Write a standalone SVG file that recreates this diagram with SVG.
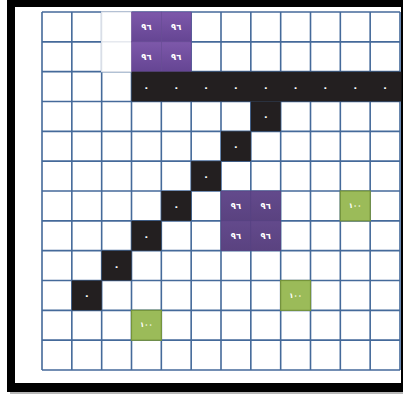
<svg xmlns="http://www.w3.org/2000/svg" width="403" height="394" viewBox="0 0 403 394">
<defs>
<linearGradient id="pg" x1="0" y1="0" x2="0" y2="1">
<stop offset="0" stop-color="#7d58aa"/>
<stop offset="1" stop-color="#654593"/>
</linearGradient>
<linearGradient id="pg2" x1="0" y1="0" x2="0" y2="1">
<stop offset="0" stop-color="#634a8c"/>
<stop offset="1" stop-color="#5a4280"/>
</linearGradient>
</defs>
<style>
.grid{stroke:#456a9a;stroke-width:1.6;fill:none}
.blk{fill:#231f20}
.pur{fill:url(#pg);stroke:#6a4c96;stroke-width:0.6}
.pur2{fill:url(#pg2);stroke:#574080;stroke-width:0.6}
.grn{fill:#9bbb59;stroke:#76943a;stroke-width:1.2}
.t{font-family:"DejaVu Sans",sans-serif;fill:#ffffff;text-anchor:middle;dominant-baseline:central;font-weight:bold}
.t96{font-size:8.5px}
.t100{font-size:7px}
.t0{font-size:10px}
</style>
<rect x="0" y="0" width="403" height="394" fill="#ffffff"/>
<rect x="10" y="389" width="393" height="5" fill="#b8b8b8"/>
<rect x="7" y="-2" width="400" height="394" fill="#000000"/>
<rect x="15" y="7" width="386" height="376" fill="#ffffff"/>

<g id="grid" class="grid">
<path d="M42 12V370M71.83 12V370M101.67 12V370M131.5 12V370M161.33 12V370M191.17 12V370M221 12V370M250.83 12V370M280.67 12V370M310.5 12V370M340.33 12V370M370.17 12V370M400 12V370"/>
<path d="M42 12H400M42 41.83H400M42 71.67H400M42 101.5H400M42 131.33H400M42 161.17H400M42 191H400M42 220.83H400M42 250.67H400M42 280.5H400M42 310.33H400M42 340.17H400M42 370H400"/>
</g>
<g id="faded">
<rect x="101.67" y="12" width="29.83" height="59.67" fill="#ffffff" stroke="#dfe3ea" stroke-width="1.2"/>
<line x1="101.67" y1="41.83" x2="131.5" y2="41.83" stroke="#dfe3ea" stroke-width="1.2"/>
</g>

<g id="purple-top">
<rect class="pur" x="131.5" y="12" width="29.83" height="29.83"/>
<rect class="pur" x="161.33" y="12" width="29.83" height="29.83"/>
<rect class="pur" x="131.5" y="41.83" width="29.83" height="29.84"/>
<rect class="pur" x="161.33" y="41.83" width="29.83" height="29.84"/>
<text class="t t96" x="146.4" y="27">٩٦</text>
<text class="t t96" x="176.2" y="27">٩٦</text>
<text class="t t96" x="146.4" y="56.8">٩٦</text>
<text class="t t96" x="176.2" y="56.8">٩٦</text>
</g>

<g id="black-row">
<rect class="blk" x="131.5" y="71.67" width="270" height="29.83"/>
<text class="t t0" x="146.4" y="87">٠</text>
<text class="t t0" x="176.2" y="87">٠</text>
<text class="t t0" x="206.1" y="87">٠</text>
<text class="t t0" x="235.9" y="87">٠</text>
<text class="t t0" x="265.7" y="87">٠</text>
<text class="t t0" x="295.6" y="87">٠</text>
<text class="t t0" x="325.4" y="87">٠</text>
<text class="t t0" x="355.2" y="87">٠</text>
<text class="t t0" x="385.1" y="87">٠</text>
</g>

<g id="black-diagonal">
<rect class="blk" x="250.83" y="101.5" width="29.84" height="29.83"/>
<text class="t t0" x="265.7" y="116.9">٠</text>
<rect class="blk" x="221" y="131.33" width="29.83" height="29.84"/>
<text class="t t0" x="235.9" y="146.7">٠</text>
<rect class="blk" x="191.17" y="161.17" width="29.83" height="29.83"/>
<text class="t t0" x="206.1" y="176.5">٠</text>
<rect class="blk" x="161.33" y="191" width="29.84" height="29.83"/>
<text class="t t0" x="176.2" y="206.4">٠</text>
<rect class="blk" x="131.5" y="220.83" width="29.83" height="29.84"/>
<text class="t t0" x="146.4" y="236.2">٠</text>
<rect class="blk" x="101.67" y="250.67" width="29.83" height="29.83"/>
<text class="t t0" x="116.6" y="266">٠</text>
<rect class="blk" x="71.83" y="280.5" width="29.84" height="29.83"/>
<text class="t t0" x="86.7" y="295.9">٠</text>
</g>

<g id="purple-mid">
<rect class="pur2" x="221" y="191" width="29.83" height="29.83"/>
<rect class="pur2" x="250.83" y="191" width="29.84" height="29.83"/>
<rect class="pur2" x="221" y="220.83" width="29.83" height="29.84"/>
<rect class="pur2" x="250.83" y="220.83" width="29.84" height="29.84"/>
<text class="t t96" x="235.9" y="206">٩٦</text>
<text class="t t96" x="265.7" y="206">٩٦</text>
<text class="t t96" x="235.9" y="235.8">٩٦</text>
<text class="t t96" x="265.7" y="235.8">٩٦</text>
</g>

<g id="green-1">
<rect class="grn" x="340.33" y="191" width="29.84" height="29.83"/>
<text class="t t100" x="355.2" y="206">١٠٠</text>
</g>
<g id="green-2">
<rect class="grn" x="280.67" y="280.5" width="29.83" height="29.83"/>
<text class="t t100" x="295.6" y="295.5">١٠٠</text>
</g>
<g id="green-3">
<rect class="grn" x="131.5" y="310.33" width="29.83" height="29.84"/>
<text class="t t100" x="146.4" y="325.3">١٠٠</text>
</g>
</svg>
